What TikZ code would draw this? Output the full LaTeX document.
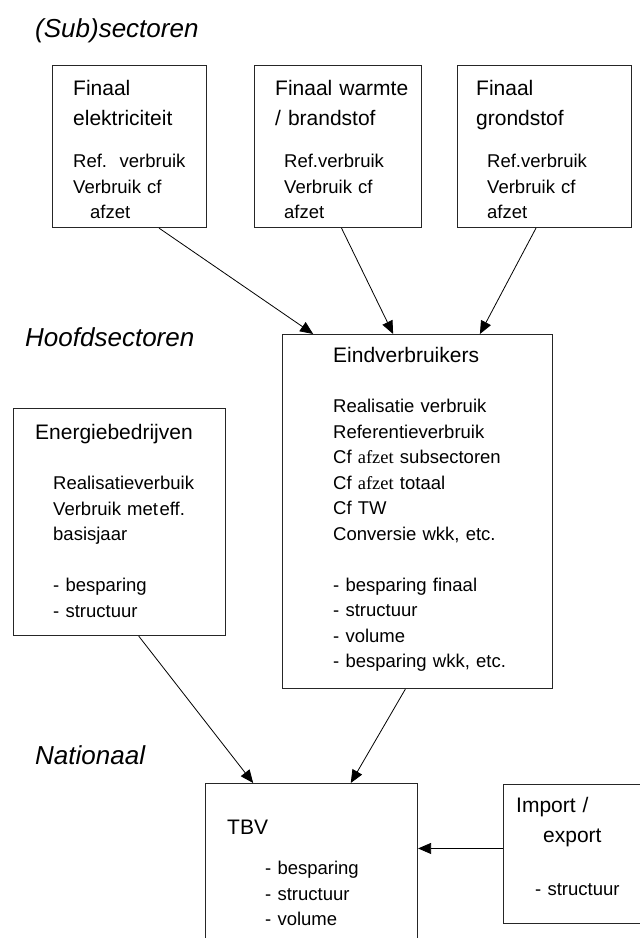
\documentclass[tikz,border=0pt]{standalone}
\usepackage{fontspec}
\setmainfont{Liberation Sans}
\newfontfamily\afzetfont{Liberation Serif}
\usepackage{tikz}
\usetikzlibrary{calc, arrows.meta, positioning}

\begin{document}
\begin{tikzpicture}[
  x=1pt, y=-1pt,
  box/.style={rectangle, draw=black!85, line width=1.1pt, inner sep=0pt, anchor=north west},
  head/.style={anchor=base west, inner sep=0pt, text width=240pt, align=left, font=\fontsize{21}{30}\selectfont},
  body/.style={anchor=base west, inner sep=0pt, text width=240pt, align=left, font=\fontsize{18.5}{25.5}\selectfont},
  section/.style={anchor=base west, inner sep=0pt, font=\fontsize{26}{30}\selectfont\itshape},
  arr/.style={-{Triangle[length=13pt, width=11pt]}, line width=0.8pt}
]
  \useasboundingbox (0,0) rectangle (640,938);
  \clip (0,0) rectangle (640,938);

  % niveaus
  \node[section] (sub) at (35,37) {(Sub)sectoren};
  \node[section] (hoofd) at (25,346) {Hoofdsectoren};
  \node[section] (nat) at (35,764) {Nationaal};

  % subsectoren
  \node[box, minimum width=154pt, minimum height=162pt] (fin1) at (52,65) {};
  \node[box, minimum width=167pt, minimum height=162pt, right=47pt of fin1] (fin2) {};
  \node[box, minimum width=174pt, minimum height=162pt, right=35pt of fin2] (fin3) {};
  \node[head] (fin1head) at (73,95) {Finaal\\ elektriciteit};
  \node[body] (fin1body) at (73,167.5) {Ref.\hspace{12.5pt}verbruik\\ Verbruik cf\\ \hspace*{17pt}afzet};
  \node[head] (fin2head) at (275,95) {Finaal warmte\\ / brandstof};
  \node[body] (fin2body) at (284,167.5) {Ref.verbruik\\ Verbruik cf\\ afzet};
  \node[head] (fin3head) at (476,95) {Finaal\\ grondstof};
  \node[body] (fin3body) at (487,167.5) {Ref.verbruik\\ Verbruik cf\\ afzet};

  % hoofdsectoren
  \node[box, minimum width=270pt, minimum height=354pt] (eind) at (282,334) {};
  \node[head] (eindhead) at (333,362.5) {Eindverbruikers};
  \node[body] (eindbody) at (333,412.5) {Realisatie verbruik\\ Referentieverbruik\\
    Cf {\afzetfont afzet} subsectoren\\ Cf {\afzetfont afzet} totaal\\ Cf TW\\
    Conversie wkk, etc.\\[25.5pt] - besparing finaal\\ - structuur\\ - volume\\
    - besparing wkk, etc.};
  \node[box, minimum width=212pt, minimum height=227pt] (energ) at (13,408) {};
  \node[head] (energhead) at (35,439.5) {Energiebedrijven};
  \node[body] (energbody) at (53,489.5) {Realisatieverbuik\\ Verbruik met\hspace{1.5pt}eff.\\
    basisjaar\\[25.5pt] - besparing\\ - structuur};

  % nationaal
  \node[box, minimum width=212pt, minimum height=177pt] (tbv) at (205,783) {};
  \node[head] (tbvhead) at (227,834.5) {TBV};
  \node[body] (tbvbody) at (265,874.5) {- besparing\\ - structuur\\ - volume};
  \node[box, minimum width=157pt, minimum height=139pt] (imp) at (503,784) {};
  \node[head] (imphead) at (516,812.5) {Import /\\ \hspace*{27pt}export};
  \node[body] (impbody) at (535,895.5) {- structuur};

  % pijlen
  \draw[arr] ($(fin1.south west)!0.69!(fin1.south east)$) -- ($(eind.north west)!0.115!(eind.north east)$);
  \draw[arr] ($(fin2.south west)!0.52!(fin2.south east)$) -- ($(eind.north west)!0.41!(eind.north east)$);
  \draw[arr] ($(fin3.south west)!0.45!(fin3.south east)$) -- ($(eind.north west)!0.73!(eind.north east)$);
  \draw[arr] ($(energ.south west)!0.59!(energ.south east)$) -- ($(tbv.north west)!0.226!(tbv.north east)$);
  \draw[arr] ($(eind.south west)!0.455!(eind.south east)$) -- ($(tbv.north west)!0.684!(tbv.north east)$);
  \draw[arr] ($(imp.north west)!0.46!(imp.south west)$) -- (tbv.east |- {$(imp.north west)!0.46!(imp.south west)$});
\end{tikzpicture}
\end{document}
